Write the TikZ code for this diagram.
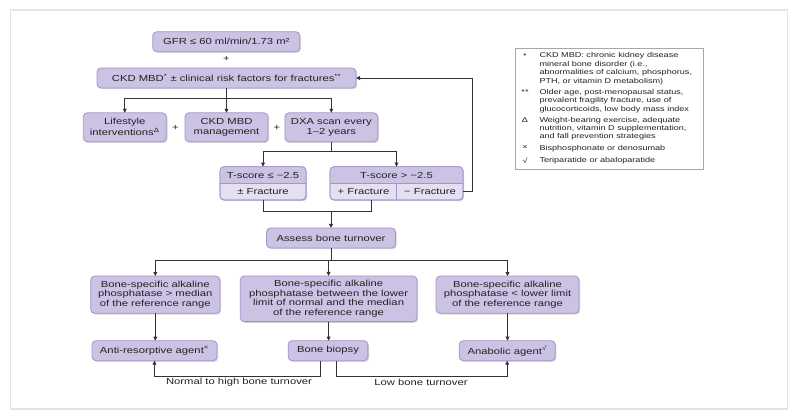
\documentclass[tikz,border=0pt]{standalone}
\usepackage{fontspec}
\setmainfont{Liberation Sans}[FakeStretch=1.28]
\usetikzlibrary{arrows.meta,shadows}
\definecolor{boxfill}{HTML}{CCC2E4}
\definecolor{boxlight}{HTML}{E4DFF1}
\definecolor{boxline}{HTML}{A195CB}
\definecolor{linec}{HTML}{333333}
\definecolor{txtc}{HTML}{222222}
\definecolor{framec}{HTML}{E4E4E4}
\definecolor{legline}{HTML}{A8A8A8}
\newcommand{\mainf}{\fontsize{8.8}{9.7}\selectfont}
\newcommand{\legf}{\fontsize{7.1}{8.4}\selectfont}
\tikzset{
  box/.style={draw=boxline, fill=boxfill, rounded corners=4pt, line width=0.8pt,
    inner sep=0pt, outer sep=0pt, align=center, font=\mainf, text=txtc,
    drop shadow={shadow xshift=1.2pt, shadow yshift=-1.2pt, opacity=0.35, fill=black!45}},
  txt/.style={inner sep=0pt, font=\mainf, text=txtc, align=center},
  legtxt/.style={inner sep=0pt, font=\legf, text=txtc, align=left, anchor=north west},
  legsym/.style={inner sep=0pt, font=\legf, text=txtc, anchor=north},
  conn/.style={draw=linec, line width=0.9pt},
  arr/.style={conn, -{Triangle[length=4pt,width=3.8pt]}}
}
\begin{document}
\begin{tikzpicture}[x=1pt,y=-1pt]
\useasboundingbox (0,0) rectangle (800,419);
\draw[framec, line width=1.5pt] (10.7,10) rectangle (787.7,409);

% top
\node[box, minimum width=147pt, minimum height=20pt] (gfr) at (226.3,41.7) {GFR ≤ 60 ml/min/1.73 m²};
\node[txt] (plus1) at (226.3,59) {+};
\node[box, minimum width=259pt, minimum height=20pt] (ckd) at (226.5,78) {CKD MBD\textsuperscript{*} ± clinical risk factors for fractures\textsuperscript{**}};

\node[box, minimum width=83pt, minimum height=29pt] (life) at (124.8,127.3) {Lifestyle\\interventions\textsuperscript{Δ}};
\node[txt] (plus2) at (175.5,128) {+};
\node[box, minimum width=83pt, minimum height=29pt] (mgmt) at (226.5,127.3) {CKD MBD\\management};
\node[txt] (plus3) at (277,128) {+};
\node[box, minimum width=92.7pt, minimum height=29pt] (dxa) at (331.3,127.3) {DXA scan every\\1–2 years};

% T-score boxes
\node[box, fill=boxlight, minimum width=86pt, minimum height=33.3pt] (tle) at (263,183.35) {};
\begin{scope}
  \clip[rounded corners=4pt] (tle.south west) rectangle (tle.north east);
  \fill[boxfill] (tle.north west) rectangle (tle.east);
\end{scope}
\draw[boxline, line width=0.8pt] (tle.west) -- (tle.east);
\draw[boxline, line width=0.8pt, rounded corners=4pt] (tle.south west) rectangle (tle.north east);
\node[txt] (tlea) at (263,175) {T-score ≤ −2.5};
\node[txt] (tleb) at (263,191.7) {± Fracture};

\node[box, fill=boxlight, minimum width=133pt, minimum height=33.3pt] (tgt) at (396.5,183.35) {};
\begin{scope}
  \clip[rounded corners=4pt] (tgt.south west) rectangle (tgt.north east);
  \fill[boxfill] (tgt.north west) rectangle (tgt.east);
\end{scope}
\draw[boxline, line width=0.8pt] (tgt.west) -- (tgt.east);
\draw[boxline, line width=0.8pt] (tgt.center) -- (tgt.south);
\draw[boxline, line width=0.8pt, rounded corners=4pt] (tgt.south west) rectangle (tgt.north east);
\node[txt] (tgta) at (396.5,175) {T-score > −2.5};
\node[txt] (tpf) at (363.5,191.7) {+ Fracture};
\node[txt] (tmf) at (430,191.7) {− Fracture};

\node[box, minimum width=129pt, minimum height=20pt] (assess) at (331,238) {Assess bone turnover};

% bottom
\node[box, minimum width=129.3pt, minimum height=37.3pt] (b1) at (155.3,294.7) {Bone-specific alkaline\\phosphatase > median\\of the reference range};
\node[box, minimum width=176.7pt, minimum height=45.7pt] (b2) at (328.6,298.8) {Bone-specific alkaline\\phosphatase between the lower\\limit of normal and the median\\of the reference range};
\node[box, minimum width=143pt, minimum height=37.3pt] (b3) at (507.5,294.7) {Bone-specific alkaline\\phosphatase < lower limit\\of the reference range};

\node[box, minimum width=125pt, minimum height=20pt] (anti) at (154.5,350.7) {Anti-resorptive agent\textsuperscript{×}};
\node[box, minimum width=79.7pt, minimum height=20pt] (biopsy) at (328,350.7) {Bone biopsy};
\node[box, minimum width=96pt, minimum height=20pt] (anab) at (507.2,350.7) {Anabolic agent\textsuperscript{√}};

\node[txt] (lblhi) at (239,382.7) {Normal to high bone turnover};
\node[txt] (lbllo) at (421,382.7) {Low bone turnover};

% connectors
\coordinate (j1) at (226.5,98);
\draw[conn] (ckd.south) -- (j1);
\draw[conn] (j1 -| life) -- (j1 -| dxa);
\draw[arr] (j1 -| life) -- (life.north);
\draw[arr] (j1) -- (mgmt.north);
\draw[arr] (j1 -| dxa) -- (dxa.north);

\coordinate (j2) at (331.3,151.7);
\draw[conn] (dxa.south) -- (j2);
\draw[conn] (j2 -| tle) -- (j2 -| tgt);
\draw[arr] (j2 -| tle) -- (tle.north);
\draw[arr] (j2 -| tgt) -- (tgt.north);

\coordinate (fb) at (472.7,191.7);
\draw[arr] (tgt.east |- tmf) -- (fb) |- (ckd.east);

\coordinate (j3) at (331,211.7);
\coordinate (jr) at (371,211.7);
\draw[conn] (tle.south) |- (jr) -- (jr |- tgt.south);
\draw[arr] (j3) -- (assess.north);

\coordinate (j4) at (331,260);
\draw[conn] (assess.south) -- (j4);
\draw[conn] (j4 -| b1) -- (j4 -| b3);
\draw[arr] (j4 -| b1) -- (b1.north);
\draw[arr] (j4 -| b2) -- (b2.north);
\draw[arr] (j4 -| b3) -- (b3.north);

\draw[arr] (b1.south) -- (b1.south |- anti.north);
\draw[arr] (b2.south) -- (b2.south |- biopsy.north);
\draw[arr] (b3.south) -- (b3.south |- anab.north);

\coordinate (bl) at (320,376);
\coordinate (br) at (336.7,376);
\draw[arr] (biopsy.south -| bl) -- (bl) -| (anti.south);
\draw[arr] (biopsy.south -| br) -- (br) -| (anab.south);

% legend
\node[draw=legline, fill=white, line width=0.8pt, minimum width=187.6pt, minimum height=121pt, inner sep=0pt,
  drop shadow={shadow xshift=1pt, shadow yshift=-1pt, opacity=0.3, fill=black!40}] (legend) at (609.5,108.8) {};
\node[legsym] (s1) at (525,53) {*};
\node[legtxt] (t1) at (539.3,52.5) {CKD MBD: chronic kidney disease\\mineral bone disorder (i.e.,\\abnormalities of calcium, phosphorus,\\PTH, or vitamin D metabolism)};
\node[legsym] (s2) at (525,89.6) {**};
\node[legtxt] (t2) at (539.3,89.1) {Older age, post-menopausal status,\\prevalent fragility fracture, use of\\glucocorticoids, low body mass index};
\node[legsym] (s3) at (525,117.3) {Δ};
\node[legtxt] (t3) at (539.3,116.8) {Weight-bearing exercise, adequate\\nutrition, vitamin D supplementation,\\and fall prevention strategies};
\node[legsym] (s4) at (525,145.6) {×};
\node[legtxt] (t4) at (539.3,145.1) {Bisphosphonate or denosumab};
\node[legsym] (s5) at (525,157.3) {√};
\node[legtxt] (t5) at (539.3,156.8) {Teriparatide or abaloparatide};
\end{tikzpicture}
\end{document}
